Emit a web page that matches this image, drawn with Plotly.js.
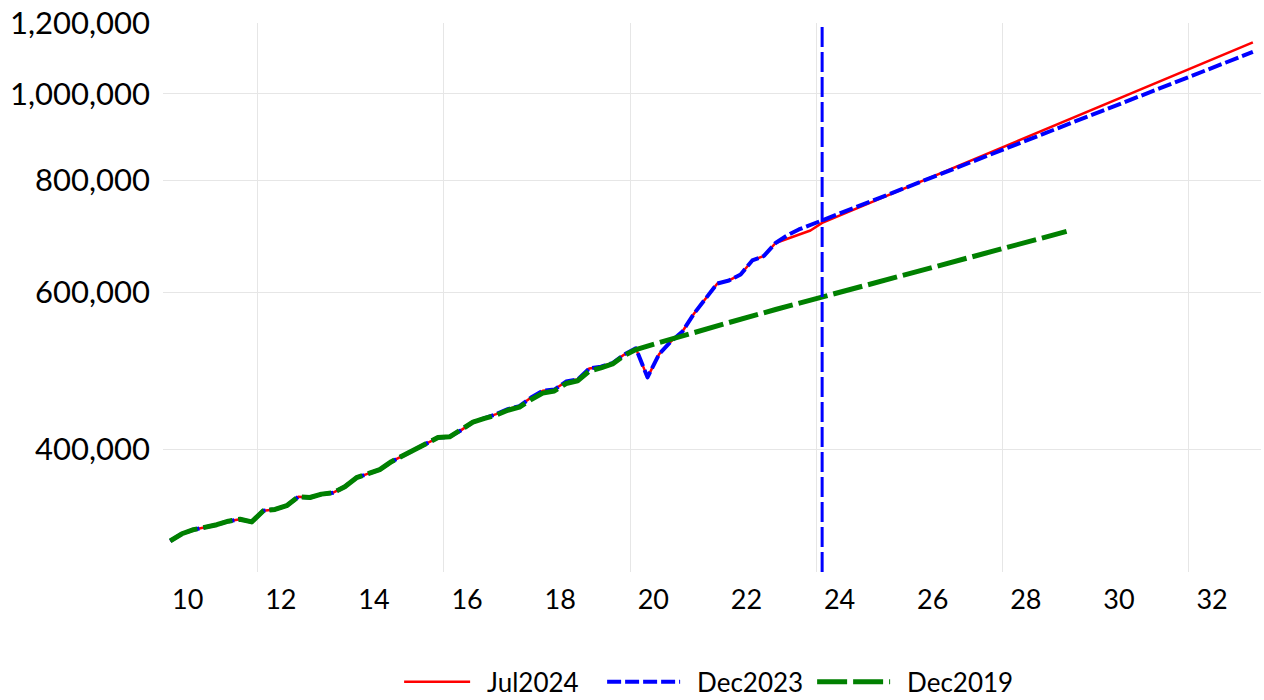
<!DOCTYPE html>
<html><head><meta charset="utf-8">
<script src="https://cdn.plot.ly/plotly-3.0.1.min.js"></script>
<style>
html,body{margin:0;padding:0;background:#fff;}
#chart{width:1264px;height:700px;}
.scatterlayer path.js-line{stroke-linejoin:round !important;}
.legend .legendlines{transform:translate(-12px,0px) !important;}
</style></head><body><div id="chart"></div>
<script>
// Shared history (2010Q1 - 2023Q1), used by Jul2024 and Dec2023 vintages
const historyQuarters = [
 '2010Q1','2010Q2','2010Q3','2010Q4','2011Q1','2011Q2','2011Q3','2011Q4',
 '2012Q1','2012Q2','2012Q3','2012Q4','2013Q1','2013Q2','2013Q3','2013Q4',
 '2014Q1','2014Q2','2014Q3','2014Q4','2015Q1','2015Q2','2015Q3','2015Q4',
 '2016Q1','2016Q2','2016Q3','2016Q4','2017Q1','2017Q2','2017Q3','2017Q4',
 '2018Q1','2018Q2','2018Q3','2018Q4','2019Q1','2019Q2','2019Q3','2019Q4',
 '2020Q1','2020Q2','2020Q3','2020Q4','2021Q1','2021Q2','2021Q3','2021Q4',
 '2022Q1','2022Q2','2022Q3','2022Q4','2023Q1'];
const historyValues = [
 316000,321900,325300,327100,329500,332500,334200,331900,
 341600,342700,346000,354000,353400,356500,357800,363400,
 371900,375800,379700,387600,393700,399800,405500,412400,
 413200,420400,429200,433300,438100,443800,447300,457200,
 465300,466700,476400,478900,492700,495000,499700,510800,
 519000,481600,511400,528200,542000,567700,590900,613400,
 618200,627800,650900,658500,680900];

// Jul2024 vintage after the shared history
const jul2024Quarters = ['2023Q2','2023Q3','2023Q4','2024Q1','2028Q1','2033Q2'];
const jul2024Values   = [688000, 695100, 703200, 717000, 876700, 1141600];

// Dec2023 vintage after the shared history
const dec2023Quarters = ['2023Q2','2023Q3','2023Q4','2024Q1','2028Q1','2033Q2'];
const dec2023Values   = [694200, 705000, 713300, 721600, 870600, 1113700];

// Dec2019 vintage (its own history + forecast)
const dec2019Quarters = [
 '2010Q1','2010Q2','2010Q3','2010Q4','2011Q1','2011Q2','2011Q3','2011Q4',
 '2012Q1','2012Q2','2012Q3','2012Q4','2013Q1','2013Q2','2013Q3','2013Q4',
 '2014Q1','2014Q2','2014Q3','2014Q4','2015Q1','2015Q2','2015Q3','2015Q4',
 '2016Q1','2016Q2','2016Q3','2016Q4','2017Q1','2017Q2','2017Q3','2017Q4',
 '2018Q1','2018Q2','2018Q3','2018Q4','2019Q1','2019Q2','2019Q3','2019Q4',
 '2020Q1','2020Q2','2020Q3','2020Q4','2021Q1','2022Q1','2023Q1','2024Q1',
 '2025Q1','2026Q1','2027Q1','2028Q1','2029Q1','2029Q2'];
const dec2019Values = [
 316000,321900,325300,327100,329500,332500,334200,331900,
 341600,342700,346000,354000,353400,356500,357800,363400,
 371900,375800,379700,387600,393700,399800,405500,412400,
 413200,420400,429200,433300,437000,442500,446000,455000,
 462500,465000,474000,477500,489500,493500,498500,509500,
 517400,522100,526800,530900,535000,554700,573600,592400,
 611800,631900,652600,674800,696000,701400];

const xTickLabels = ['10','12','14','16','18','20','22','24','26','28','30','32'];
const gridYears = [2012,2016,2020,2024,2028,2032];
const yTickValues = [400000,600000,800000,1000000,1200000];
const markerQuarter = '2024Q1';

function qToX(q){ const y = +q.slice(0,4), n = +q.slice(5); return y + (n - 0.5) / 4; }

const histX = historyQuarters.map(qToX);
const traces = [
 { name:'Jul2024', type:'scatter', mode:'lines',
   x: histX.concat(jul2024Quarters.map(qToX)), y: historyValues.concat(jul2024Values),
   line:{color:'#ff0000', width:2.5} },
 { name:'Dec2023', type:'scatter', mode:'lines',
   x: histX.concat(dec2023Quarters.map(qToX)), y: historyValues.concat(dec2023Values),
   line:{color:'#0000ff', width:4, dash:'14px,4px'} },
 { name:'Dec2019', type:'scatter', mode:'lines',
   x: dec2019Quarters.map(qToX), y: dec2019Values,
   line:{color:'#008000', width:5, dash:'30px,6px'} }
];

const mx = qToX(markerQuarter);
const layout = {
 width:1264, height:700,
 margin:{l:163, r:3, t:23, b:128, autoexpand:false},
 paper_bgcolor:'#ffffff', plot_bgcolor:'#ffffff',
 font:{family:'Lato, sans-serif', color:'#000000'},
 showlegend:true,
 legend:{orientation:'h', x:0.2196, xanchor:'left', y:-0.2, yanchor:'middle',
   font:{size:26, color:'#000'}, itemwidth:73, entrywidth:122, traceorder:'normal', bgcolor:'rgba(0,0,0,0)'},
 xaxis:{range:[2009.97, 2033.55], tickmode:'array',
   tickvals: xTickLabels.map(l => 2000 + (+l) + 0.5), ticktext: xTickLabels,
   showgrid:false, zeroline:false, showline:false, ticks:'',
   tickfont:{size:27}, ticklabelstandoff:9,
   minor:{tickmode:'array', tickvals:gridYears, showgrid:true, gridcolor:'#e6e6e6', gridwidth:1, ticks:''}},
 yaxis:{type:'log', range:[Math.log10(291700), Math.log10(1200000)], tickmode:'array',
   tickvals:yTickValues, ticktext:yTickValues.map(v => v.toLocaleString('en-US')),
   showgrid:true, gridcolor:'#e6e6e6', gridwidth:1, zeroline:false, showline:false, ticks:'',
   tickfont:{size:31}, ticklabelstandoff:12},
 shapes:[{type:'line', xref:'x', yref:'paper', x0:mx, x1:mx, y0:0, y1:1,
   line:{color:'#0000ff', width:3, dash:'20px,5px'}}]
};
Plotly.newPlot('chart', traces, layout, {displayModeBar:false, staticPlot:true});
</script></body></html>
